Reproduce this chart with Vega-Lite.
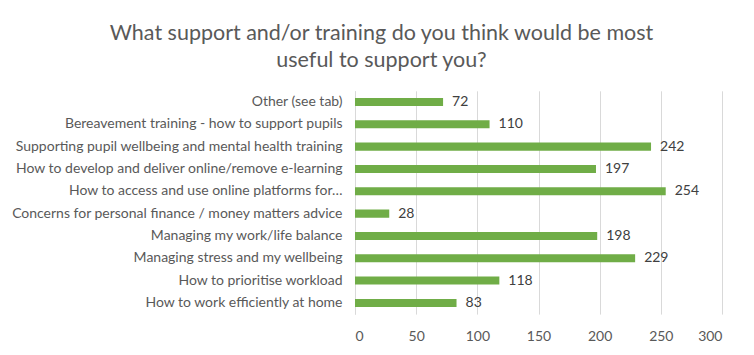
{
  "$schema": "https://vega.github.io/schema/vega-lite/v6.json",
  "autosize": {"type": "none"},
  "width": 367,
  "height": 223.3,
  "padding": {"left": 355, "top": 90.8, "right": 31.7, "bottom": 40.9},
  "background": "white",
  "title": {
    "text": ["What support and/or training do you think would be most", "useful to support you?"],
    "anchor": "middle",
    "frame": "group",
    "dx": -157,
    "offset": 19,
    "font": "Lato",
    "fontSize": 21.5,
    "fontWeight": "normal",
    "color": "#595959",
    "lineHeight": 27
  },
  "data": {
    "values": [
      {"item": "Other (see tab)", "count": 72},
      {"item": "Bereavement training - how to support pupils", "count": 110},
      {"item": "Supporting pupil wellbeing and mental health training", "count": 242},
      {"item": "How to develop and deliver online/remove e-learning", "count": 197},
      {"item": "How to access and use online platforms for…", "count": 254},
      {"item": "Concerns for personal finance / money matters advice", "count": 28},
      {"item": "Managing my work/life balance", "count": 198},
      {"item": "Managing stress and my wellbeing", "count": 229},
      {"item": "How to prioritise workload", "count": 118},
      {"item": "How to work efficiently at home", "count": 83}
    ]
  },
  "encoding": {
    "y": {
      "field": "item",
      "type": "nominal",
      "sort": null,
      "scale": {"paddingInner": 0.64, "paddingOuter": 0.32},
      "axis": {
        "title": null,
        "ticks": false,
        "labelPadding": 13,
        "labelFont": "Lato",
        "labelFontSize": 14,
        "labelColor": "#595959",
        "labelLimit": 400,
        "domainColor": "#d9d9d9",
        "domainWidth": 1
      }
    },
    "x": {
      "field": "count",
      "type": "quantitative",
      "scale": {"domain": [0, 300], "nice": false},
      "axis": {
        "title": null,
        "values": [0, 50, 100, 150, 200, 250, 300],
        "grid": true,
        "gridColor": "#d9d9d9",
        "domain": false,
        "ticks": false,
        "labelPadding": 15,
        "labelFont": "Lato",
        "labelFontSize": 14,
        "labelColor": "#595959"
      }
    }
  },
  "layer": [
    {"mark": {"type": "bar", "color": "#70AD47"}},
    {
      "mark": {"type": "text", "align": "left", "dx": 9, "font": "Lato", "fontSize": 14, "color": "#404040"},
      "encoding": {"text": {"field": "count", "type": "quantitative"}}
    }
  ],
  "config": {"view": {"stroke": null}}
}
